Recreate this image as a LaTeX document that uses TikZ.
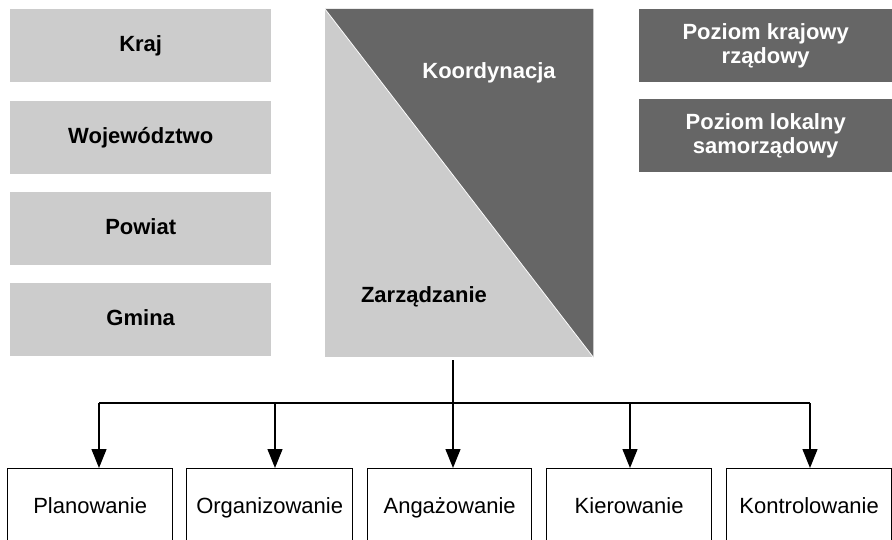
\documentclass[tikz,border=0pt]{standalone}
\usepackage{fontspec}
\setmainfont{Liberation Sans}
\usetikzlibrary{arrows.meta}
\definecolor{lightg}{HTML}{CCCCCC}
\definecolor{darkg}{HTML}{666666}
\begin{document}
\begin{tikzpicture}[x=1pt,y=-1pt,
  lbox/.style={fill=lightg, anchor=north west, minimum width=261pt, minimum height=73pt, inner sep=0pt, text height=15.5pt, text depth=4.5pt, font=\bfseries\fontsize{22}{24}\selectfont},
  rbox/.style={fill=darkg, text=white, anchor=north west, minimum width=253pt, minimum height=73pt, inner sep=0pt, align=center, font=\bfseries\fontsize{22}{24.5}\selectfont},
  bbox/.style={draw=black, line width=1.3pt, fill=white, anchor=north west, minimum height=78pt, inner sep=0pt, text height=16pt, text depth=4.5pt, font=\fontsize{22}{24}\selectfont},
  conn/.style={line width=1.3pt, draw=black},
  arr/.style={conn, -{Triangle[length=19pt,width=15pt]}},
  ctext/.style={font=\bfseries\fontsize{22}{24}\selectfont, inner sep=0pt}
]
\clip (0,0) rectangle (892,540);
\fill[white] (0,0) rectangle (892,540);

% left boxes
\node[lbox] (kraj) at (10,9) {Kraj};
\node[lbox] (woj) at (10,101) {Województwo};
\node[lbox] (pow) at (10,192) {Powiat};
\node[lbox] (gmi) at (10,283) {Gmina};

% right boxes
\node[rbox] (krajowy) at (639,9) {Poziom krajowy\\rządowy};
\node[rbox] (lokalny) at (639,99) {Poziom lokalny\\samorządowy};

% center block
\node[fill=lightg, anchor=north west, minimum width=268pt, minimum height=348pt, inner sep=0pt] (ctr) at (325,9) {};
\fill[darkg] (ctr.north west) -- (ctr.north east) -- (ctr.south east) -- cycle;
\draw[white, line width=0.8pt] (ctr.north west) -- (ctr.south east);
\node[ctext, text=white] (koord) at (489,73) {Koordynacja};
\node[ctext, text=black] (zarz) at (424,297) {Zarządzanie};

% bottom boxes
\node[bbox, minimum width=165pt] (b1) at (7,468) {Planowanie};
\node[bbox, minimum width=166pt] (b2) at (186,468) {Organizowanie};
\node[bbox, minimum width=164pt] (b3) at (367,468) {Angażowanie};
\node[bbox, minimum width=165pt] (b4) at (546,468) {Kierowanie};
\node[bbox, minimum width=165pt] (b5) at (726,468) {Kontrolowanie};

% connectors
\coordinate (top) at (453,360);
\coordinate (j1) at (99,403);
\coordinate (j2) at (275,403);
\coordinate (j3) at (453,403);
\coordinate (j4) at (630,403);
\coordinate (j5) at (810,403);
\draw[conn] (top) -- (j3);
\draw[conn] (j1) -- (j5);
\draw[arr] (j1) -- (j1 |- b1.north);
\draw[arr] (j2) -- (j2 |- b2.north);
\draw[arr] (j3) -- (j3 |- b3.north);
\draw[arr] (j4) -- (j4 |- b4.north);
\draw[arr] (j5) -- (j5 |- b5.north);
\end{tikzpicture}
\end{document}
